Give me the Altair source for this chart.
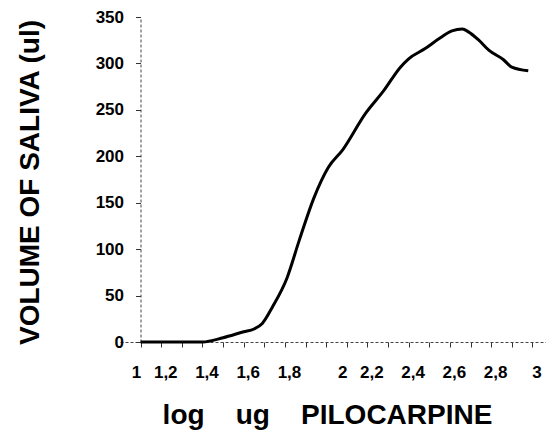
import altair as alt
import pandas as pd

# log dose (x) and saliva volume (y)
log_dose = [1.10, 1.20, 1.29, 1.40, 1.50, 1.60, 1.65, 1.69, 1.74, 1.81, 1.87, 1.94,
            2.01, 2.08, 2.19, 2.28, 2.36, 2.40, 2.48, 2.55, 2.61, 2.66, 2.69, 2.74,
            2.79, 2.86, 2.90, 2.98]
volume = [0, 0, 0, 0, 4.6, 11, 14, 20, 38, 69, 110, 155,
          188, 207, 246, 271, 296, 305, 316, 327, 335, 337, 334, 325,
          314, 304, 296, 292]

x_ticks = [1.0, 1.1, 1.2, 1.3, 1.4, 1.5, 1.6, 1.7, 1.8, 1.9, 2.0,
           2.1, 2.2, 2.3, 2.4, 2.5, 2.6, 2.7, 2.8, 2.9, 3.0]
y_ticks = [0, 50, 100, 150, 200, 250, 300, 350]

df = pd.DataFrame({"logdose": log_dose, "volume": volume})

FONT = "Liberation Sans"
NB = "\u00a0"

chart = alt.Chart(df).mark_line(
    color="black", strokeWidth=3, interpolate="monotone"
).encode(
    x=alt.X(
        "logdose:Q",
        scale=alt.Scale(domain=[1.0, 3.066], nice=False, zero=False),
        axis=alt.Axis(
            values=x_ticks,
            labelExpr="round(datum.value*10) % 2 == 0 ? replace(format(datum.value, '.1~f'), '.', ',') : ''",
            labelFont=FONT, labelFontSize=17, labelFontWeight="bold", labelColor="black",
            labelPadding=17,
            labelOffset={"condition": {"test": "datum.value < 1.05 || abs(datum.value - 2) < 0.05", "value": 16}, "value": 4},
            labelFlush=False, labelOverlap=False,
            tickSize=5, tickColor="#333", tickWidth=1,
            tickOpacity={"condition": {"test": "datum.value < 1.05", "value": 0}, "value": 1},
            domainColor="#444", domainDash=[3, 2], domainWidth=1,
            grid=False,
            title=f"log{NB*4}ug{NB*4}PILOCARPINE",
            titleFont=FONT, titleFontSize=28, titleFontWeight="bold", titleColor="black",
            titleX=207, titleY=81, titleAlign="center", titleBaseline="alphabetic",
        ),
    ),
    y=alt.Y(
        "volume:Q",
        scale=alt.Scale(domain=[0, 350], nice=False),
        axis=alt.Axis(
            values=y_ticks, offset=-20.5,
            labelFont=FONT, labelFontSize=17, labelFontWeight="bold", labelColor="black",
            labelPadding=12,
            tickSize=5, tickColor="#333", tickWidth=1,
            domainColor="#444", domainDash=[3, 2], domainWidth=1,
            grid=False,
            title="VOLUME OF SALIVA (ul)",
            titleFont=FONT, titleFontSize=28, titleFontWeight="bold", titleColor="black",
            titleX=-102.5, titleY=165, titleAngle=270, titleAlign="center", titleBaseline="alphabetic",
        ),
    ),
).properties(
    width=426, height=325,
    padding={"left": 112, "top": 9, "right": 0, "bottom": 90},
    autosize=alt.AutoSizeParams(type="none"),
    background="white",
).configure_view(stroke=None)

chart.save("out.html", embed_options={"renderer": "svg", "actions": False})
